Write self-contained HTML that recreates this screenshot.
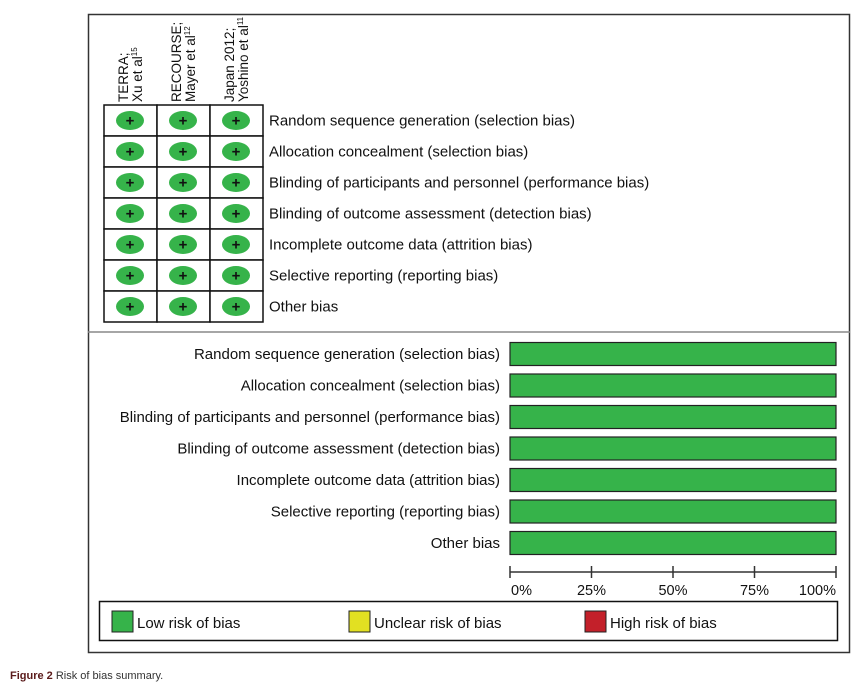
<!DOCTYPE html>
<html><head><meta charset="utf-8"><style>
body{margin:0;background:#fff;width:857px;height:686px;overflow:hidden}
svg{display:block;font-family:"Liberation Sans",sans-serif}
</style></head><body>
<svg id="chart" width="857" height="686" viewBox="0 0 857 686">
<rect x="88.5" y="14.5" width="761" height="638" fill="none" stroke="#333" stroke-width="1.5"/>
<line x1="88" y1="332" x2="850" y2="332" stroke="#888" stroke-width="1.5"/>
<g id="summary"></g>
<g id="graph"></g>
<g>
<rect x="99.5" y="601.5" width="738" height="39" fill="#fff" stroke="#111" stroke-width="1.5"/>
<rect x="112" y="611" width="21" height="21" fill="#36b34a" stroke="#222"/>
<text x="137" y="628" font-size="15" fill="#111">Low risk of bias</text>
<rect x="349" y="611" width="21" height="21" fill="#e2e022" stroke="#222"/>
<text x="374" y="628" font-size="15" fill="#111">Unclear risk of bias</text>
<rect x="585" y="611" width="21" height="21" fill="#c3202a" stroke="#222"/>
<text x="610" y="628" font-size="15" fill="#111">High risk of bias</text>
</g>
<text x="10" y="679" font-size="11" fill="#333"><tspan font-weight="bold" fill="#5a1a1a">Figure 2</tspan> Risk of bias summary.</text>
</svg>
<script>
const domains=["Random sequence generation (selection bias)","Allocation concealment (selection bias)","Blinding of participants and personnel (performance bias)","Blinding of outcome assessment (detection bias)","Incomplete outcome data (attrition bias)","Selective reporting (reporting bias)","Other bias"];
const studies=[["TERRA;","Xu et al","15"],["RECOURSE;","Mayer et al","12"],["Japan 2012;","Yoshino et al","11"]];
const judgements=[["+","+","+"],["+","+","+"],["+","+","+"],["+","+","+"],["+","+","+"],["+","+","+"],["+","+","+"]];
const lowPct=[100,100,100,100,100,100,100];
const ticks=[0,25,50,75,100];
const NS="http://www.w3.org/2000/svg";
function mk(p,t,a){const e=document.createElementNS(NS,t);for(const k in a)e.setAttribute(k,a[k]);p.appendChild(e);return e;}
const sg=document.getElementById('summary');
const gx0=104,cw=53,gy0=105,rh=31;
const colX=i=>gx0+cw*i;const rowY=j=>gy0+rh*j;
studies.forEach((s,i)=>{
 const t=mk(sg,'text',{transform:`translate(${colX(i)+24},${gy0-3}) rotate(-90)`,'font-size':'13.5',fill:'#111'});
 
 
 const a=mk(t,'tspan',{x:0,dy:0});a.textContent=s[0];
 const b=mk(t,'tspan',{x:0,dy:14});b.textContent=s[1];
 const c=mk(t,'tspan',{dy:-5,'font-size':'8'});c.textContent=s[2];
});
domains.forEach((d,j)=>{
 for(let i=0;i<studies.length;i++){
  const r=mk(sg,'rect',{x:colX(i),y:rowY(j),width:cw,height:rh,fill:'#fff',stroke:'#111','stroke-width':1.5});
  
  
  const cx=colX(i)+26,cy=rowY(j)+rh/2;
  const col=judgements[j][i]==='+'?'#36b34a':judgements[j][i]==='?'?'#e2e022':'#c3202a';
  const e=mk(sg,'ellipse',{cx:cx,cy:cy,rx:14,ry:9.5,fill:col});
  
  
  const p=mk(sg,'text',{x:cx,y:cy+5,'text-anchor':'middle','font-size':'15','font-weight':'bold',fill:'#111'});
  p.textContent=judgements[j][i];
  
  
 }
 const l=mk(sg,'text',{x:269,y:rowY(j)+rh/2+5,'font-size':'15',fill:'#111'});
 l.textContent=d;
 
 
});
const gg=document.getElementById('graph');
const x0=510,x1=836;const xs=v=>x0+(x1-x0)*v/100;
const by=j=>354+31.5*j;
domains.forEach((d,j)=>{
 const l=mk(gg,'text',{x:500,y:by(j)+5,'text-anchor':'end','font-size':'15',fill:'#111'});
 l.textContent=d;
 
 
 const r=mk(gg,'rect',{x:xs(0),y:by(j)-11.5,width:xs(lowPct[j])-xs(0),height:23,fill:'#36b34a',stroke:'#222','stroke-width':1.2});
 
 
});
const ax=mk(gg,'line',{x1:xs(0),x2:xs(100),y1:572,y2:572,stroke:'#333','stroke-width':1.5});


ticks.forEach(t=>{
 const tk=mk(gg,'line',{x1:xs(t),x2:xs(t),y1:566,y2:578,stroke:'#333','stroke-width':1.5});
 
 
 const anchor=t===0?'start':t===100?'end':'middle';
 const tl=mk(gg,'text',{x:t===0?xs(t)+1:xs(t),y:595,'text-anchor':anchor,'font-size':'14.5',fill:'#111'});
 tl.textContent=t+'%';
 
 
});
</script>
</body></html>
